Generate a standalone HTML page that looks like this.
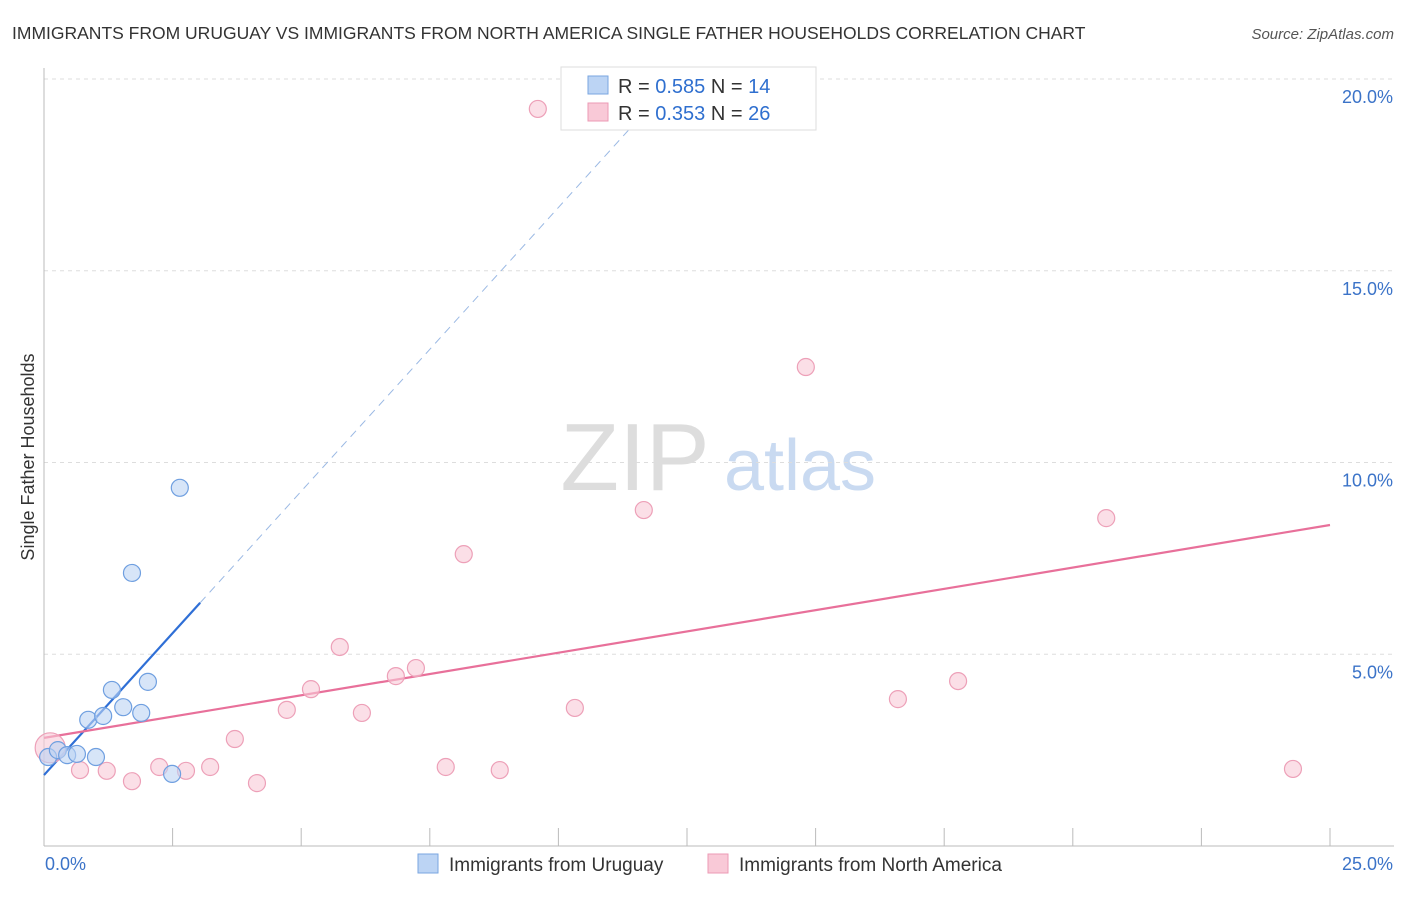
<!DOCTYPE html>
<html><head><meta charset="utf-8"><style>
body{margin:0;background:#fff;font-family:"Liberation Sans",sans-serif;}
svg text{font-family:"Liberation Sans",sans-serif;}
</style></head><body>
<svg id="chart" width="1406" height="892" viewBox="0 0 1406 892" xmlns="http://www.w3.org/2000/svg">
<text x="12" y="39" font-size="17.5" fill="#333">IMMIGRANTS FROM URUGUAY VS IMMIGRANTS FROM NORTH AMERICA SINGLE FATHER HOUSEHOLDS CORRELATION CHART</text>
<text x="1394" y="39" font-size="15" fill="#555" font-style="italic" text-anchor="end">Source: ZipAtlas.com</text>
<g>
<text x="635" y="490" font-size="96" fill="#ddd" font-family="Liberation Serif" text-anchor="middle">ZIP</text>
<text x="800" y="490" font-size="72" fill="#c9daf1" text-anchor="middle">atlas</text>
</g>
<g id="grid"></g>
<g id="axes"></g>
<g id="lines"></g>
<g id="points"></g>
<text x="34" y="457" font-size="18" fill="#333" text-anchor="middle" transform="rotate(-90 34 457)">Single Father Households</text>
<g>
<rect x="561" y="67" width="255" height="63" fill="#fff" stroke="#ddd"/>
<rect x="588" y="76" width="20" height="18" fill="#bcd4f4" stroke="#7aa6e0"/>
<rect x="588" y="103" width="20" height="18" fill="#f9c9d7" stroke="#ec9ab4"/>
<text x="618" y="93" font-size="20" fill="#333">R = <tspan fill="#2f6fcf">0.585</tspan>   N = <tspan fill="#2f6fcf">14</tspan></text>
<text x="618" y="120" font-size="20" fill="#333">R = <tspan fill="#2f6fcf">0.353</tspan>   N = <tspan fill="#2f6fcf">26</tspan></text>
</g>
<g>
<rect x="418" y="854" width="20" height="19" fill="#bcd4f4" stroke="#7aa6e0"/>
<text x="449" y="871" font-size="19" fill="#333">Immigrants from Uruguay</text>
<rect x="708" y="854" width="20" height="19" fill="#f9c9d7" stroke="#ec9ab4"/>
<text x="739" y="871" font-size="19" fill="#333">Immigrants from North America</text>
</g>
</svg>
<script>
const yTicks=[5,10,15,20];
const yTickLabels=["5.0%","10.0%","15.0%","20.0%"];
const xTickValues=[0,2.5,5,7.5,10,12.5,15,17.5,20,22.5,25];
const xEndLabels=["0.0%","25.0%"];
const uruguayX=[0.08,0.27,0.45,0.64,1.01,0.86,1.15,1.32,1.54,1.89,2.02,1.71,2.64,2.49];
const uruguayY=[2.32,2.50,2.37,2.40,2.32,3.29,3.39,4.07,3.62,3.47,4.28,7.12,9.34,1.88];
const naX=[0.12,0.70,1.22,1.71,2.24,2.76,3.23,3.71,4.14,4.72,5.19,5.75,6.18,6.84,7.23,7.81,8.16,8.86,9.60,10.32,11.66,14.81,16.60,17.77,20.65,24.28];
const naY=[2.56,1.98,1.96,1.69,2.06,1.96,2.06,2.79,1.64,3.55,4.09,5.19,3.47,4.43,4.64,2.06,7.61,1.98,19.22,3.60,8.76,12.49,3.83,4.30,8.55,2.01];
const uruguayTrend=[1.85,1.48]; // intercept, slope
const naTrend=[2.82,0.222];
const X=v=>44+v*51.44, Y=v=>846-v*38.35;
const NS="http://www.w3.org/2000/svg";
function mk(tag,attrs,parent){const e=document.createElementNS(NS,tag);for(const k in attrs)e.setAttribute(k,attrs[k]);document.getElementById(parent).appendChild(e);return e;}
yTicks.forEach((t,i)=>{
 const l=mk('line',{x1:44,x2:1394,y1:Y(t),y2:Y(t),stroke:'#ddd','stroke-dasharray':'4,4'},'grid');
 
 
 const tx=mk('text',{x:1393,y:Y(t)+24,'font-size':18,fill:'#3b73c8','text-anchor':'end'},'axes');
 tx.textContent=yTickLabels[i];
 
 
});
let ax=mk('line',{x1:44,x2:44,y1:68,y2:846,stroke:'#bbb'},'axes');


ax=mk('line',{x1:44,x2:1394,y1:846,y2:846,stroke:'#bbb'},'axes');


xTickValues.forEach(v=>{
 const t=mk('line',{x1:X(v),x2:X(v),y1:828,y2:846,stroke:'#bbb'},'axes');
 
 
});
let xl=mk('text',{x:45,y:870,'font-size':18,fill:'#3b73c8'},'axes');xl.textContent=xEndLabels[0];


xl=mk('text',{x:1393,y:870,'font-size':18,fill:'#3b73c8','text-anchor':'end'},'axes');xl.textContent=xEndLabels[1];


// trend lines
const uEnd=Math.max(...uruguayX)*1.15;
let ln=mk('line',{x1:X(0),y1:Y(uruguayTrend[0]),x2:X(uEnd),y2:Y(uruguayTrend[0]+uruguayTrend[1]*uEnd),stroke:'#2f6fd6','stroke-width':2.2},'lines');


const dEnd=(20-uruguayTrend[0])/uruguayTrend[1];
ln=mk('line',{x1:X(uEnd),y1:Y(uruguayTrend[0]+uruguayTrend[1]*uEnd),x2:X(dEnd),y2:Y(20),stroke:'#9bb9e4','stroke-width':1,'stroke-dasharray':'8,6'},'lines');


ln=mk('line',{x1:X(0),y1:Y(naTrend[0]),x2:X(25),y2:Y(naTrend[0]+naTrend[1]*25),stroke:'#e8709a','stroke-width':2.2},'lines');


naX.forEach((x,i)=>{
 const c=mk('circle',{cx:X(x),cy:Y(naY[i]),r:i===0?15:8.5,fill:'#f9c9d7','fill-opacity':0.6,stroke:'#eda0b8','stroke-width':1.2},'points');
 
 
});
uruguayX.forEach((x,i)=>{
 const c=mk('circle',{cx:X(x),cy:Y(uruguayY[i]),r:8.5,fill:'#bcd4f4','fill-opacity':0.6,stroke:'#6f9fe0','stroke-width':1.2},'points');
 
 
});
</script>
</body></html>
